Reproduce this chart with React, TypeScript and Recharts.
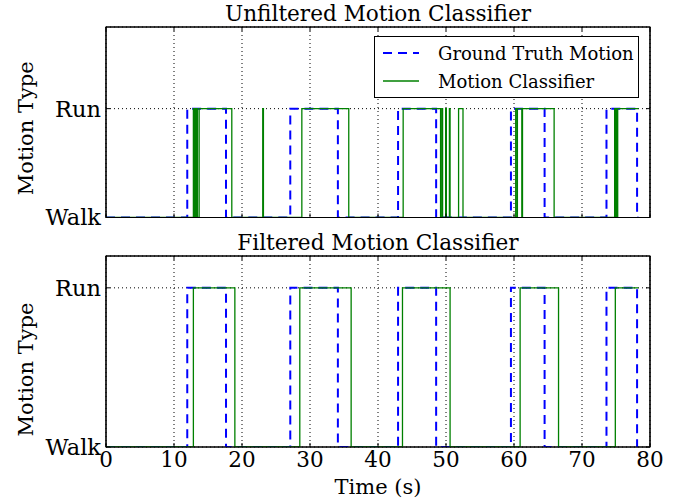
import { LineChart, Line, XAxis, YAxis, CartesianGrid, Label, ReferenceArea } from "recharts";

const FONT = '"DejaVu Serif", serif';

// time axis (s) and the two states
const timeTicks = [0, 10, 20, 30, 40, 50, 60, 70, 80];
const stateTicks = [0, 1];
const stateNames = ["Walk", "Run"];

// ground truth: time of each change and the state it changes to
const truthTimes = [0, 11.95, 17.65, 27.1, 34.1, 42.95, 48.55, 59.55, 64.5, 73.6, 78.1, 78.3];
const truthStates = [0, 1, 0, 1, 0, 1, 0, 1, 0, 1, 0, 0];

// raw classifier output (lots of flicker)
const rawTimes = [
  0, 12.85, 12.95, 13.05, 13.2, 13.3, 13.45, 13.7, 18.5, 23.05, 23.15, 28.8, 35.7,
  43.7, 49.2, 49.4, 49.5, 49.95, 50.05, 50.5, 50.6, 51.85, 52.5,
  60.25, 60.3, 60.5, 61.15, 61.25, 65.9, 74.8, 74.9, 75.0, 75.1, 75.25, 78.3,
];
const rawStates = [
  0, 1, 0, 1, 0, 1, 0, 1, 0, 1, 0, 1, 0,
  1, 0, 1, 0, 1, 0, 1, 0, 1, 0,
  1, 0, 1, 0, 1, 0, 1, 0, 1, 0, 1, 1,
];

// filtered classifier output
const filteredTimes = [0, 12.85, 18.95, 28.5, 36.05, 43.6, 50.6, 60.9, 66.55, 74.9, 78.3];
const filteredStates = [0, 1, 0, 1, 0, 1, 0, 1, 0, 1, 1];

const toSeries = (times: number[], states: number[]) =>
  times.map((t, i) => ({ t, v: states[i] }));

const truthData = toSeries(truthTimes, truthStates);
const rawData = toSeries(rawTimes, rawStates);
const filteredData = toSeries(filteredTimes, filteredStates);

const TitleLabel = ({ viewBox, title }: any) => {
  if (!viewBox) return null;
  return (
    <text
      x={viewBox.x + viewBox.width / 2}
      y={viewBox.y + viewBox.height - 6}
      textAnchor="middle"
      fontFamily={FONT}
      fontSize={21.6}
      fill="#000"
    >
      {title}
    </text>
  );
};

const YTitle = ({ viewBox, shift }: any) => {
  if (!viewBox) return null;
  const cx = 26;
  const cy = viewBox.y + viewBox.height / 2 + (shift || 0);
  return (
    <text
      x={cx}
      y={cy}
      transform={`rotate(-90 ${cx} ${cy})`}
      textAnchor="middle"
      dominantBaseline="central"
      fontFamily={FONT}
      fontSize={21}
      fill="#000"
    >
      Motion Type
    </text>
  );
};

const TimeTitle = ({ viewBox }: any) => {
  if (!viewBox) return null;
  return (
    <text
      x={viewBox.x + viewBox.width / 2}
      y={viewBox.y + 47}
      textAnchor="middle"
      fontFamily={FONT}
      fontSize={21}
      fill="#000"
    >
      Time (s)
    </text>
  );
};

interface PanelProps {
  title: string;
  height: number;
  margin: { top: number; right: number; bottom: number; left: number };
  yMax: number;
  classifier: { t: number; v: number }[];
  bottomAxis: boolean;
  yShift: number;
}

function Panel({ title, height, margin, yMax, classifier, bottomAxis, yShift }: PanelProps) {
  const blank = () => "";
  return (
    <LineChart width={673} height={height} margin={margin}>
      <CartesianGrid stroke="#000" strokeDasharray="1 3" strokeWidth={1} />
      <ReferenceArea x1={0} x2={80} y1={0} y2={yMax} fill="none" stroke="#000" strokeWidth={1.2} />
      <XAxis
        dataKey="t"
        type="number"
        domain={[0, 80]}
        ticks={timeTicks}
        interval={0}
        allowDataOverflow
        stroke="#000"
        tickSize={-4}
        tickMargin={bottomAxis ? 9 : 0}
        tick={{ fill: "#000", fontSize: 21.5, fontFamily: FONT }}
        tickFormatter={bottomAxis ? undefined : blank}
        height={bottomAxis ? 52 : 1}
      >
        {bottomAxis && <Label content={<TimeTitle />} />}
      </XAxis>
      <XAxis
        xAxisId="top"
        orientation="top"
        dataKey="t"
        type="number"
        domain={[0, 80]}
        ticks={timeTicks}
        interval={0}
        allowDataOverflow
        stroke="#000"
        tickSize={-4}
        tickFormatter={blank}
        height={1}
      >
        <Label content={<TitleLabel title={title} />} />
      </XAxis>
      <YAxis
        type="number"
        domain={[0, yMax]}
        ticks={stateTicks}
        interval={0}
        allowDataOverflow
        width={106}
        stroke="#000"
        tickSize={-4}
        tickMargin={9}
        tick={{ fill: "#000", fontSize: 22.5, fontFamily: FONT }}
        tickFormatter={(v: number) => stateNames[v]}
      >
        <Label content={<YTitle shift={yShift} />} />
      </YAxis>
      <YAxis
        yAxisId="right"
        orientation="right"
        type="number"
        domain={[0, yMax]}
        ticks={stateTicks}
        interval={0}
        allowDataOverflow
        width={1}
        stroke="#000"
        tickSize={-4}
        tickFormatter={blank}
      />
      <Line
        data={truthData}
        xAxisId="top"
        yAxisId="right"
        dataKey="v"
        type="stepAfter"
        stroke="#0000ff"
        strokeWidth={2}
        strokeDasharray="9 6"
        dot={false}
        isAnimationActive={false}
      />
      <Line
        data={classifier}
        dataKey="v"
        type="stepAfter"
        stroke="#008000"
        strokeWidth={1.3}
        dot={false}
        isAnimationActive={false}
      />
    </LineChart>
  );
}

export default function App() {
  return (
    <div
      style={{
        position: "absolute",
        left: 0,
        top: 0,
        width: 673,
        height: 499,
        background: "#fff",
        fontFamily: FONT,
      }}
    >
      <div style={{ position: "absolute", left: 0, top: 0 }}>
        <Panel
          title="Unfiltered Motion Classifier"
          height={230}
          margin={{ top: 26, right: 22, bottom: 11.5, left: 0 }}
          yMax={1.75}
          classifier={rawData}
          bottomAxis={false}
          yShift={6}
        />
      </div>
      <div style={{ position: "absolute", left: 0, top: 230 }}>
        <Panel
          title="Filtered Motion Classifier"
          height={269}
          margin={{ top: 25, right: 22, bottom: 0, left: 0 }}
          yMax={1.2}
          classifier={filteredData}
          bottomAxis={true}
          yShift={18}
        />
      </div>
      {/* legend box of the top panel */}
      <div
        style={{
          position: "absolute",
          left: 374,
          top: 36,
          width: 263,
          height: 60,
          border: "1px solid #000",
          background: "#fff",
          fontSize: 18,
          color: "#000",
        }}
      >
        {[
          { name: "Ground Truth Motion", color: "#0000ff", dash: "9 6", w: 2 },
          { name: "Motion Classifier", color: "#008000", dash: undefined, w: 1.3 },
        ].map((item, i) => (
          <div
            key={item.name}
            style={{ position: "absolute", left: 0, top: 3 + i * 28, height: 26, display: "flex", alignItems: "center" }}
          >
            <svg width={60} height={26} style={{ display: "block" }}>
              <line x1={8} x2={44} y1={13} y2={13} stroke={item.color} strokeWidth={item.w} strokeDasharray={item.dash} />
            </svg>
            <span style={{ marginLeft: 3, whiteSpace: "nowrap" }}>{item.name}</span>
          </div>
        ))}
      </div>
    </div>
  );
}
